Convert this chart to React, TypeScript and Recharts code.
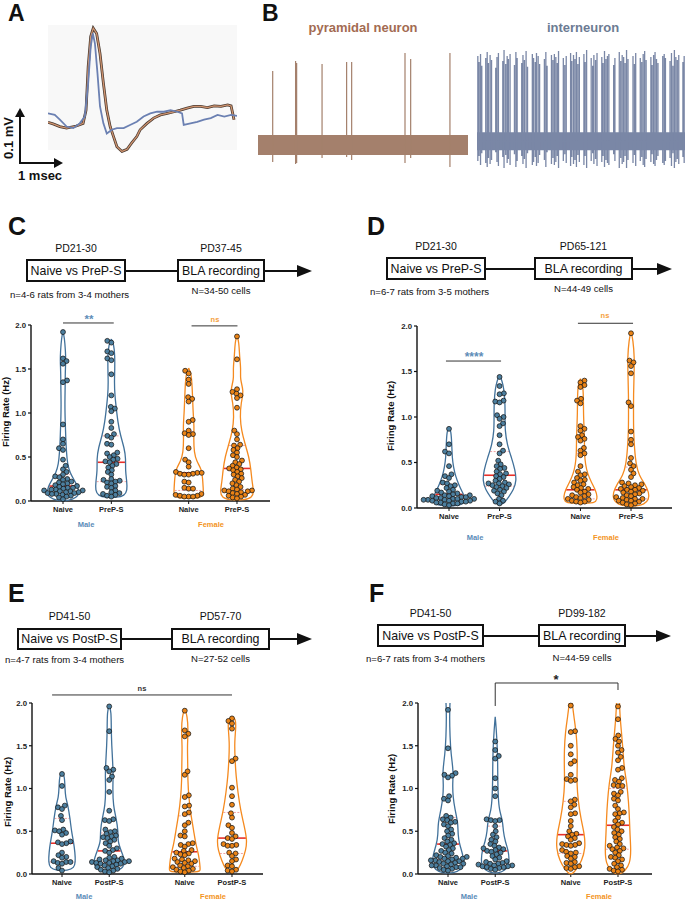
import React from 'react';
import { ScatterChart, Scatter, XAxis, YAxis, ReferenceLine, LineChart, Line, ReferenceArea } from 'recharts';

const FONT = '"Liberation Sans", Arial, Helvetica, sans-serif';
const BLUE_LINE = '#41719a';
const BLUE_DOT = '#4c7f9f';
const ORANGE_LINE = '#f58a1f';
const ORANGE_DOT = '#ea8316';
const MALE_TXT = '#5a8cb8';
const FEMALE_TXT = '#f39423';
const MEDIAN = '#e8302a';
const QUART = '#f2a0a0';

// ---------- Panel A: averaged spike waveforms (time ms, voltage µV) ----------
const brownT = [0, 0.12, 0.28, 0.44, 0.67, 0.83, 0.9, 0.95, 1.01, 1.07, 1.15, 1.23, 1.31, 1.39, 1.47, 1.55, 1.63, 1.75, 1.87, 1.98, 2.1, 2.18, 2.34, 2.5, 2.66, 2.82, 2.98, 3.13, 3.29, 3.45, 3.61, 3.77, 3.93, 4.09, 4.25, 4.33, 4.4];
const brownV = [8, 5, 0, -3, 1, 6, 31, 113, 170, 186, 176, 138, 82, 31, 0, -19, -38, -47, -43, -31, -19, -6, 6, 16, 22, 25, 28, 31, 35, 38, 38, 36, 39, 38, 41, 39, 13];
const blueT = [0, 0.16, 0.28, 0.44, 0.6, 0.75, 0.87, 0.95, 1.01, 1.06, 1.11, 1.17, 1.23, 1.31, 1.39, 1.51, 1.63, 1.79, 1.94, 2.1, 2.26, 2.42, 2.58, 2.74, 2.9, 3.06, 3.17, 3.21, 3.37, 3.53, 3.69, 3.85, 4.01, 4.17, 4.33, 4.47];
const blueV = [25, 22, 13, 0, -3, 6, 19, 82, 151, 176, 157, 101, 38, 6, -13, -6, -3, -3, 3, 9, 19, 25, 28, 28, 31, 28, 25, 3, 6, 9, 13, 16, 22, 19, 22, 20];

// ---------- Panel B: spike trains ----------
const pyrSpikeTimes = [7.0, 17.9, 18.4, 30.5, 42.2, 44.6, 70.0, 72.7, 91.4];
const pyrSpikeTops = [74, 84, 82, 81, 83, 83, 92, 86, 92];
const pyrSpikeBottoms = [-17, -19, -18, -13, -12, -15, -18, -13, -22];
const pyrBand = [-10, 10];
const intSpikeTimes = [
  0.4, 1.0, 1.7, 2.3, 4.2, 4.9, 5.5, 6.3, 7.0, 9.0, 9.6, 10.3, 12.4, 13.0, 13.8, 14.5, 15.1, 15.9, 18.0, 18.7,
  19.3, 21.5, 22.1, 22.8, 23.6, 24.3, 26.6, 27.2, 28.0, 28.6, 29.4, 30.1, 32.4, 33.1, 33.7, 35.8, 36.5, 37.2, 37.9, 38.6,
  39.2, 41.5, 42.2, 42.9, 45.0, 45.6, 46.4, 47.1, 47.8, 48.5, 49.2, 51.4, 52.0, 52.7, 54.9, 55.6, 56.2, 57.0, 57.7, 60.0,
  60.6, 61.3, 62.0, 62.7, 63.4, 65.7, 66.3, 68.4, 69.1, 69.8, 70.5, 71.2, 71.9, 72.6, 75.0, 75.7, 76.3, 78.5, 79.2, 79.9,
  80.6, 81.3, 83.6, 84.2, 84.9, 85.6, 86.3, 87.0, 89.3, 90.0, 90.6, 92.8, 93.5, 94.2, 94.9, 95.6, 96.3, 97.0, 99.0, 99.6,
];
const intSpikeTops = [
  86, 80, 88, 76, 84, 90, 79, 87, 82, 74, 85, 89, 81, 92, 78, 86, 83, 88, 77, 90,
  84, 79, 87, 82, 91, 75, 88, 84, 80, 89, 86, 78, 83, 90, 76, 87, 82, 88, 85, 79,
  91, 84, 77, 86, 89, 81, 87, 83, 90, 78, 85, 88, 80, 92, 84, 76, 87, 82, 89, 85,
  79, 91, 83, 86, 88, 77, 84, 90, 81, 87, 85, 79, 92, 83, 86, 78, 89, 84, 80, 88,
  91, 82, 85, 77, 87, 90, 83, 79, 86, 88, 84, 81, 89, 76, 92, 85, 82, 87, 80, 86,
];
const intSpikeBottoms = [
  -20, -15, -24, -12, -22, -26, -17, -23, -19, -11, -21, -25, -16, -27, -14, -22, -18, -24, -13, -26,
  -20, -15, -23, -18, -27, -12, -24, -21, -16, -25, -22, -14, -19, -26, -11, -23, -17, -24, -21, -15,
  -27, -20, -13, -22, -25, -16, -23, -19, -26, -14, -21, -24, -15, -27, -20, -12, -23, -18, -25, -21,
  -15, -26, -19, -22, -24, -13, -20, -27, -17, -23, -21, -15, -27, -19, -22, -14, -25, -20, -16, -24,
  -26, -18, -21, -13, -23, -25, -19, -15, -22, -24, -20, -17, -25, -12, -27, -21, -18, -23, -16, -22,
];
const intBand = [-9, 9];

// ---------- Violin panels ----------
const groupPos = [1, 2, 3.6, 4.6];
const yTicks = [0, 0.5, 1, 1.5, 2];
const labelsPre = ['Naive', 'PreP-S', 'Naive', 'PreP-S'];
const labelsPost = ['Naive', 'PostP-S', 'Naive', 'PostP-S'];

// Panel C
const cMaleNaive = [1.92, 1.62, 1.59, 1.56, 1.37, 1.35, 0.87, 0.7, 0.65, 0.6, 0.58, 0.47, 0.4, 0.36, 0.33, 0.3, 0.28, 0.27, 0.25, 0.24, 0.22, 0.21, 0.2, 0.19, 0.18, 0.17, 0.16, 0.15, 0.15, 0.14, 0.13, 0.13, 0.12, 0.12, 0.11, 0.11, 0.1, 0.1, 0.09, 0.09, 0.08, 0.08, 0.07, 0.06, 0.05, 0.04, 0.02];
const cMalePreP = [1.82, 1.8, 1.7, 1.68, 1.62, 1.6, 1.44, 1.2, 1.07, 1.05, 1.02, 0.9, 0.83, 0.76, 0.74, 0.72, 0.65, 0.64, 0.55, 0.54, 0.52, 0.5, 0.48, 0.47, 0.45, 0.44, 0.42, 0.4, 0.38, 0.35, 0.33, 0.3, 0.25, 0.24, 0.23, 0.22, 0.21, 0.2, 0.17, 0.16, 0.15, 0.12, 0.1, 0.09, 0.08, 0.07, 0.06, 0.05];
const cFemaleNaive = [1.48, 1.45, 1.38, 1.33, 1.18, 1.16, 1.13, 0.92, 0.9, 0.8, 0.77, 0.76, 0.75, 0.6, 0.47, 0.44, 0.39, 0.33, 0.32, 0.32, 0.31, 0.31, 0.3, 0.3, 0.22, 0.21, 0.15, 0.14, 0.14, 0.08, 0.07, 0.06, 0.06, 0.05, 0.05, 0.05];
const cFemalePreP = [1.87, 1.61, 1.27, 1.24, 1.22, 1.2, 1.17, 1.06, 0.8, 0.76, 0.7, 0.64, 0.63, 0.6, 0.58, 0.55, 0.52, 0.5, 0.46, 0.44, 0.42, 0.4, 0.38, 0.37, 0.36, 0.35, 0.33, 0.31, 0.3, 0.28, 0.26, 0.24, 0.22, 0.2, 0.18, 0.16, 0.14, 0.13, 0.12, 0.12, 0.11, 0.11, 0.1, 0.09, 0.08, 0.07, 0.06, 0.05, 0.04, 0.03];
const cMaleNaiveViolin = [[1.93, 0], [1.85, 1.5], [1.7, 2.5], [1.6, 2.8], [1.45, 2.2], [1.3, 2.2], [1.1, 1.8], [0.9, 2.2], [0.7, 2.8], [0.55, 3.5], [0.42, 4.5], [0.32, 7], [0.24, 11], [0.16, 15], [0.09, 16], [0.04, 14], [0.0, 5]];
const cMalePrePViolin = [[1.84, 0], [1.78, 2.5], [1.65, 3.5], [1.5, 3.5], [1.35, 3], [1.2, 3.5], [1.05, 5], [0.9, 6.5], [0.75, 9], [0.6, 13], [0.48, 14.5], [0.35, 14], [0.22, 15.5], [0.12, 16], [0.06, 13], [0.04, 6]];
const cFemaleNaiveViolin = [[1.51, 0], [1.45, 2.5], [1.3, 3.5], [1.15, 4], [1.0, 4.5], [0.85, 5.5], [0.7, 5], [0.55, 5.5], [0.45, 8], [0.36, 13], [0.25, 14], [0.15, 14.5], [0.07, 15], [0.04, 12], [0.03, 6]];
const cFemalePrePViolin = [[1.89, 0], [1.8, 2], [1.65, 2.5], [1.5, 4], [1.38, 3], [1.25, 7], [1.12, 4], [0.95, 3], [0.8, 4.5], [0.65, 8], [0.5, 12], [0.35, 14], [0.22, 15], [0.1, 17], [0.04, 15], [0.01, 8]];
const cMedians = [0.17, 0.44, 0.32, 0.37];
const cQ1 = [0.1, 0.22, 0.12, 0.13];
const cQ3 = [0.3, 0.74, 0.79, 0.63];

// Panel D
const dMaleNaive = [0.87, 0.7, 0.62, 0.6, 0.46, 0.37, 0.35, 0.33, 0.28, 0.27, 0.25, 0.24, 0.22, 0.2, 0.19, 0.18, 0.17, 0.16, 0.15, 0.14, 0.14, 0.13, 0.13, 0.12, 0.12, 0.11, 0.11, 0.1, 0.1, 0.1, 0.09, 0.09, 0.09, 0.08, 0.08, 0.08, 0.07, 0.07, 0.06, 0.06, 0.05, 0.05, 0.04, 0.03];
const dMalePreP = [1.44, 1.34, 1.26, 1.25, 1.18, 1.17, 1.16, 1.02, 1.0, 0.98, 0.93, 0.9, 0.8, 0.7, 0.63, 0.6, 0.52, 0.48, 0.46, 0.44, 0.43, 0.4, 0.38, 0.37, 0.35, 0.34, 0.32, 0.3, 0.28, 0.27, 0.27, 0.26, 0.25, 0.24, 0.23, 0.22, 0.2, 0.19, 0.18, 0.16, 0.14, 0.1, 0.08, 0.07, 0.05];
const dFemaleNaive = [1.4, 1.38, 1.35, 1.33, 1.2, 1.18, 1.15, 0.9, 0.87, 0.85, 0.8, 0.78, 0.76, 0.74, 0.66, 0.63, 0.6, 0.58, 0.46, 0.4, 0.37, 0.36, 0.33, 0.31, 0.3, 0.28, 0.26, 0.25, 0.23, 0.22, 0.21, 0.2, 0.18, 0.17, 0.15, 0.14, 0.13, 0.12, 0.11, 0.1, 0.09, 0.08, 0.07, 0.07, 0.06];
const dFemalePreP = [1.92, 1.62, 1.6, 1.56, 1.48, 1.16, 1.12, 0.84, 0.75, 0.7, 0.55, 0.49, 0.46, 0.42, 0.38, 0.34, 0.28, 0.27, 0.26, 0.25, 0.24, 0.23, 0.22, 0.21, 0.2, 0.2, 0.19, 0.18, 0.17, 0.16, 0.15, 0.14, 0.13, 0.12, 0.11, 0.1, 0.1, 0.09, 0.08, 0.08, 0.07, 0.06, 0.05, 0.04, 0.03];
const dMaleNaiveViolin = [[0.89, 0], [0.85, 2], [0.7, 2.8], [0.55, 3.2], [0.45, 4.5], [0.35, 6.5], [0.25, 10], [0.18, 13], [0.1, 17], [0.05, 15], [0.02, 7]];
const dMalePrePViolin = [[1.46, 0], [1.4, 2.5], [1.3, 4.5], [1.15, 5.5], [1.0, 5.5], [0.85, 5.5], [0.7, 7.5], [0.55, 12], [0.42, 15.5], [0.3, 17], [0.2, 14], [0.12, 9], [0.06, 5], [0.04, 2]];
const dFemaleNaiveViolin = [[1.42, 0], [1.35, 2.5], [1.2, 3], [1.05, 3], [0.9, 3.5], [0.75, 4], [0.6, 4], [0.48, 5], [0.38, 7], [0.28, 11], [0.2, 15], [0.12, 17], [0.07, 16], [0.05, 10]];
const dFemalePrePViolin = [[1.94, 0], [1.85, 2], [1.65, 3.5], [1.45, 3], [1.25, 2.5], [1.05, 2.5], [0.85, 2.5], [0.65, 3.5], [0.48, 5], [0.36, 8], [0.26, 14], [0.17, 18], [0.09, 18], [0.04, 13], [0.02, 6]];
const dMedians = [0.15, 0.36, 0.2, 0.2];
const dQ1 = [0.09, 0.24, 0.1, 0.1];
const dQ3 = [0.26, 0.62, 0.6, 0.45];

// Panel E
const eMaleNaive = [1.17, 1.03, 0.8, 0.78, 0.76, 0.68, 0.63, 0.52, 0.51, 0.5, 0.48, 0.46, 0.38, 0.37, 0.36, 0.35, 0.25, 0.22, 0.2, 0.19, 0.15, 0.14, 0.14, 0.13, 0.12, 0.07, 0.04];
const eMalePostP = [1.96, 1.67, 1.24, 1.22, 1.2, 1.14, 1.1, 0.96, 0.74, 0.64, 0.63, 0.62, 0.52, 0.5, 0.49, 0.47, 0.45, 0.44, 0.43, 0.42, 0.4, 0.38, 0.36, 0.33, 0.3, 0.28, 0.27, 0.25, 0.2, 0.19, 0.18, 0.17, 0.16, 0.16, 0.15, 0.15, 0.14, 0.14, 0.13, 0.13, 0.12, 0.12, 0.11, 0.1, 0.09, 0.08, 0.07, 0.06, 0.05, 0.04, 0.03, 0.02];
const eFemaleNaive = [1.91, 1.68, 1.64, 1.61, 1.2, 1.16, 0.92, 0.9, 0.8, 0.79, 0.72, 0.7, 0.6, 0.57, 0.5, 0.45, 0.44, 0.36, 0.35, 0.34, 0.32, 0.28, 0.27, 0.25, 0.24, 0.23, 0.22, 0.18, 0.17, 0.16, 0.15, 0.14, 0.13, 0.12, 0.1, 0.09, 0.08, 0.07, 0.06, 0.05, 0.04, 0.03, 0.02];
const eFemalePostP = [1.82, 1.79, 1.76, 1.7, 1.35, 1.32, 1.01, 0.91, 0.81, 0.71, 0.66, 0.57, 0.54, 0.48, 0.44, 0.42, 0.41, 0.35, 0.34, 0.33, 0.33, 0.25, 0.24, 0.21, 0.17, 0.15, 0.1, 0.09, 0.05, 0.04, 0.03];
const eMaleNaiveViolin = [[1.19, 0], [1.15, 2.5], [1.0, 3], [0.9, 3.5], [0.8, 6], [0.65, 8], [0.5, 9.5], [0.38, 11.5], [0.25, 13], [0.14, 13.5], [0.07, 12], [0.04, 6]];
const eMalePostPViolin = [[1.98, 0], [1.9, 2], [1.7, 2], [1.5, 2.5], [1.3, 3.5], [1.15, 4], [1.0, 3.5], [0.8, 4], [0.65, 7], [0.5, 9], [0.38, 8.5], [0.27, 12], [0.15, 16], [0.07, 14], [0.03, 7]];
const eFemaleNaiveViolin = [[1.93, 0], [1.85, 2.5], [1.68, 3.5], [1.5, 2.5], [1.3, 3], [1.1, 3], [0.9, 4], [0.7, 6], [0.5, 9], [0.35, 11], [0.22, 14], [0.12, 15], [0.05, 15.5], [0.02, 15]];
const eFemalePostPViolin = [[1.84, 0], [1.82, 3.5], [1.72, 4], [1.55, 2.5], [1.35, 3], [1.15, 4], [0.95, 6], [0.75, 8.5], [0.55, 12.5], [0.4, 15], [0.28, 14], [0.15, 10], [0.07, 7], [0.03, 4]];
const eMedians = [0.36, 0.27, 0.26, 0.42];
const eQ1 = [0.14, 0.13, 0.09, 0.24];
const eQ3 = [0.65, 0.48, 0.68, 0.72];

// Panel F
const fMaleNaive = [1.92, 1.47, 1.18, 1.16, 1.15, 1.13, 0.91, 0.88, 0.86, 0.68, 0.66, 0.64, 0.63, 0.61, 0.6, 0.58, 0.56, 0.52, 0.5, 0.47, 0.45, 0.42, 0.4, 0.38, 0.36, 0.35, 0.34, 0.32, 0.3, 0.28, 0.27, 0.25, 0.24, 0.22, 0.21, 0.2, 0.2, 0.19, 0.18, 0.18, 0.17, 0.16, 0.16, 0.15, 0.15, 0.14, 0.13, 0.12, 0.12, 0.11, 0.1, 0.1, 0.09, 0.08, 0.08, 0.07, 0.06, 0.05, 0.04];
const fMalePostP = [1.55, 1.45, 1.38, 1.35, 1.12, 1.0, 0.91, 0.64, 0.63, 0.63, 0.62, 0.56, 0.5, 0.46, 0.43, 0.4, 0.38, 0.35, 0.33, 0.31, 0.3, 0.29, 0.28, 0.27, 0.26, 0.25, 0.23, 0.21, 0.19, 0.17, 0.15, 0.14, 0.13, 0.12, 0.12, 0.11, 0.1, 0.1, 0.09, 0.09, 0.08, 0.08, 0.07, 0.06, 0.05];
const fFemaleNaive = [1.97, 1.67, 1.66, 1.5, 1.4, 1.32, 1.29, 1.16, 1.11, 1.1, 1.09, 0.87, 0.85, 0.81, 0.78, 0.71, 0.7, 0.62, 0.56, 0.5, 0.47, 0.46, 0.44, 0.42, 0.4, 0.36, 0.35, 0.34, 0.34, 0.33, 0.28, 0.26, 0.25, 0.24, 0.21, 0.2, 0.18, 0.14, 0.13, 0.12, 0.09, 0.08, 0.07, 0.06];
const fFemalePostP = [1.96, 1.81, 1.62, 1.58, 1.55, 1.5, 1.45, 1.42, 1.37, 1.33, 1.24, 1.22, 1.12, 1.1, 1.08, 1.04, 1.03, 1.03, 0.96, 0.94, 0.92, 0.88, 0.86, 0.8, 0.76, 0.72, 0.71, 0.7, 0.66, 0.62, 0.6, 0.58, 0.55, 0.52, 0.5, 0.48, 0.46, 0.43, 0.41, 0.38, 0.35, 0.33, 0.31, 0.3, 0.29, 0.27, 0.25, 0.22, 0.2, 0.19, 0.17, 0.15, 0.12, 0.1, 0.08, 0.06, 0.05, 0.04, 0.03];
const fMaleNaiveViolin = [[2.0, 2], [1.85, 1.5], [1.6, 2], [1.4, 3], [1.2, 5.5], [1.05, 4.5], [0.9, 5], [0.75, 7], [0.6, 10], [0.45, 10], [0.35, 11.5], [0.22, 15], [0.12, 16], [0.05, 13], [0.01, 6]];
const fMalePostPViolin = [[1.84, 0], [1.7, 1], [1.5, 2], [1.3, 2.5], [1.1, 2.5], [0.9, 3], [0.75, 4], [0.62, 7.5], [0.5, 8], [0.38, 10], [0.28, 13], [0.17, 14], [0.09, 13.5], [0.04, 9], [0.01, 4]];
const fFemaleNaiveViolin = [[2.0, 1.5], [1.85, 3], [1.65, 5.5], [1.45, 6.5], [1.25, 6.5], [1.05, 6], [0.85, 7.5], [0.65, 10], [0.45, 14], [0.3, 14.5], [0.15, 11], [0.06, 6], [0.0, 2]];
const fFemalePostPViolin = [[2.0, 1.5], [1.85, 2], [1.65, 3.5], [1.45, 5], [1.25, 6], [1.05, 9], [0.85, 10.5], [0.65, 11.5], [0.45, 12], [0.28, 13], [0.12, 12], [0.04, 7], [0.0, 3]];
const fMedians = [0.35, 0.27, 0.46, 0.57];
const fQ1 = [0.17, 0.11, 0.24, 0.29];
const fQ3 = [0.66, 0.56, 0.85, 1.0];

// ---------- helpers ----------
type Pt = { x: number; y: number };

function widthAt(violin: number[][], y: number): number {
  if (y >= violin[0][0]) return violin[0][1];
  for (let i = 0; i < violin.length - 1; i++) {
    const [ya, wa] = violin[i];
    const [yb, wb] = violin[i + 1];
    if (y <= ya && y >= yb) {
      const f = ya === yb ? 0 : (ya - y) / (ya - yb);
      return wa + (wb - wa) * f;
    }
  }
  return violin[violin.length - 1][1];
}

function swarmOffsets(values: number[], xppu: number, yppu: number, d: number): number[] {
  const order = values.map((_, i) => i).sort((a, b) => values[a] - values[b]);
  const placed: { x: number; y: number }[] = [];
  const off: number[] = new Array(values.length).fill(0);
  let flip = 1;
  for (const i of order) {
    const y = values[i] * yppu;
    const cands: number[] = [0];
    for (const p of placed) {
      const dy = Math.abs(p.y - y);
      if (dy < d) {
        const dx = Math.sqrt(d * d - dy * dy);
        cands.push(p.x + dx, p.x - dx);
      }
    }
    flip = -flip;
    cands.sort((a, b) => Math.abs(a) - Math.abs(b) || (a - b) * flip);
    let chosen = 0;
    for (const c of cands) {
      if (placed.every((p) => (p.x - c) ** 2 + (p.y - y) ** 2 >= d * d - 1e-6)) {
        chosen = c;
        break;
      }
    }
    placed.push({ x: chosen, y });
    off[i] = chosen / xppu;
  }
  return off;
}

function outline(violin: number[][], pos: number, xppu: number): Pt[] {
  const left = violin.map(([y, w]) => ({ x: pos - w / xppu, y }));
  const right = [...violin].reverse().map(([y, w]) => ({ x: pos + w / xppu, y }));
  return [...left, ...right];
}

function T(props: { x: number; base: number; size: number; children: React.ReactNode; anchor?: 'start' | 'middle'; bold?: boolean; color?: string }) {
  const { x, base, size, children, anchor = 'start', bold = false, color = '#111' } = props;
  return (
    <div
      style={{
        position: 'absolute',
        left: x,
        top: base - 0.8465 * size,
        fontSize: size,
        lineHeight: `${size}px`,
        fontWeight: bold ? 700 : 400,
        color,
        whiteSpace: 'nowrap',
        transform: anchor === 'middle' ? 'translateX(-50%)' : undefined,
        fontFamily: FONT,
      }}
    >
      {children}
    </div>
  );
}

function VText(props: { cx: number; cy: number; size: number; children: React.ReactNode }) {
  return (
    <div
      style={{
        position: 'absolute',
        left: props.cx,
        top: props.cy,
        fontSize: props.size,
        lineHeight: `${props.size}px`,
        fontWeight: 700,
        color: '#111',
        whiteSpace: 'nowrap',
        transform: 'translate(-50%, -50%) rotate(-90deg)',
        fontFamily: FONT,
      }}
    >
      {props.children}
    </div>
  );
}

type ProtoCfg = {
  letter: string; letterX: number; letterBase: number;
  b1: number[]; b2: number[]; boxTop: number; boxH: number; arrowEnd: number;
  pd1: string; pd2: string; pdBase: number; b1Text: string; b2Text: string; textBase: number;
  nText: string; nX: number; nBase: number; NText: string; NBase: number;
};

function Protocol({ c }: { c: ProtoCfg }) {
  const mid = c.boxTop + c.boxH / 2;
  const box = (x0: number, x1: number) => (
    <div style={{ position: 'absolute', left: x0, top: c.boxTop, width: x1 - x0, height: c.boxH, border: '2px solid #111', boxSizing: 'border-box' }} />
  );
  const c1 = (c.b1[0] + c.b1[1]) / 2;
  const c2 = (c.b2[0] + c.b2[1]) / 2;
  return (
    <>
      <T x={c.letterX} base={c.letterBase} size={25} bold>{c.letter}</T>
      <T x={c1} base={c.pdBase} size={10.5} anchor="middle">{c.pd1}</T>
      <T x={c2} base={c.pdBase} size={10.5} anchor="middle">{c.pd2}</T>
      {box(c.b1[0], c.b1[1])}
      {box(c.b2[0], c.b2[1])}
      <div style={{ position: 'absolute', left: c.b1[1], top: mid - 1, width: c.b2[0] - c.b1[1], height: 2, background: '#111' }} />
      <div style={{ position: 'absolute', left: c.b2[1], top: mid - 1, width: c.arrowEnd - 14 - c.b2[1], height: 2, background: '#111' }} />
      <div style={{ position: 'absolute', left: c.arrowEnd - 15, top: mid - 6, width: 0, height: 0, borderLeft: '15px solid #111', borderTop: '6px solid transparent', borderBottom: '6px solid transparent' }} />
      <T x={c1} base={c.textBase} size={12.4} anchor="middle">{c.b1Text}</T>
      <T x={c2} base={c.textBase} size={12.4} anchor="middle">{c.b2Text}</T>
      <T x={c.nX} base={c.nBase} size={9.6}>{c.nText}</T>
      <T x={c2} base={c.NBase} size={9.6} anchor="middle">{c.NText}</T>
    </>
  );
}

type GroupCfg = { values: number[]; violin: number[][] };
type SigText = { text: string; x: number; base: number; color: string; size: number };
type PanelCfg = {
  axisLeft: number; plotTop: number; plotBottom: number; plotRight: number; c1: number; xppu: number;
  groups: GroupCfg[]; medians: number[]; q1: number[]; q3: number[]; labels: string[];
  sigLines: Pt[][]; sigTexts: SigText[];
  yLabel: { cx: number; cy: number }; sex: { male: number; female: number; base: number };
};

const noShape = () => <g />;

function ViolinPanel({ p }: { p: PanelCfg }) {
  const YAW = 28, MT = 45, MR = 6, XH = 18;
  const left = p.axisLeft - YAW;
  const top = p.plotTop - MT;
  const width = p.plotRight + MR - left;
  const height = p.plotBottom + XH - top;
  const yppu = (p.plotBottom - p.plotTop) / 2;
  const xDomain = [1 - (p.c1 - p.axisLeft) / p.xppu, 1 + (p.plotRight - p.c1) / p.xppu];
  const colorLine = (i: number) => (i < 2 ? BLUE_LINE : ORANGE_LINE);
  const colorDot = (i: number) => (i < 2 ? BLUE_DOT : ORANGE_DOT);

  return (
    <>
      <div style={{ position: 'absolute', left, top }}>
        <ScatterChart width={width} height={height} margin={{ top: MT, right: MR, bottom: 0, left: 0 }}>
          <XAxis
            type="number"
            dataKey="x"
            domain={xDomain}
            ticks={groupPos}
            interval={0}
            tickFormatter={(v: number) => p.labels[groupPos.indexOf(v)] ?? ''}
            height={XH}
            tickSize={3}
            tickMargin={3}
            axisLine={{ stroke: '#111', strokeWidth: 1.4 }}
            tickLine={{ stroke: '#111', strokeWidth: 1 }}
            tick={{ fontSize: 7.5, fontWeight: 700, fill: '#222', fontFamily: FONT }}
          />
          <YAxis
            type="number"
            dataKey="y"
            domain={[0, 2]}
            ticks={yTicks}
            interval={0}
            tickFormatter={(v: number) => v.toFixed(1)}
            width={YAW}
            tickSize={3}
            tickMargin={2}
            axisLine={{ stroke: '#111', strokeWidth: 1.4 }}
            tickLine={{ stroke: '#111', strokeWidth: 1.2 }}
            tick={{ fontSize: 7.8, fontWeight: 700, fill: '#222', fontFamily: FONT }}
          />
          {p.groups.map((g, i) => (
            <Scatter
              key={'v' + i}
              data={outline(g.violin, groupPos[i], p.xppu)}
              shape={noShape}
              line={{ stroke: colorLine(i), strokeWidth: 1.3, fill: 'none' }}
              lineType="joint"
              lineJointType="basis"
              isAnimationActive={false}
            />
          ))}
          {p.groups.map((g, i) => {
            const out: React.ReactNode[] = [];
            [p.q1[i], p.q3[i]].forEach((q, k) => {
              const w = (widthAt(g.violin, q) * 0.95) / p.xppu;
              out.push(
                <ReferenceLine
                  key={`q${i}-${k}`}
                  segment={[{ x: groupPos[i] - w, y: q }, { x: groupPos[i] + w, y: q }]}
                  stroke={QUART}
                  strokeWidth={1}
                  strokeDasharray="2 1.5"
                  ifOverflow="visible"
                />
              );
            });
            const wm = (widthAt(g.violin, p.medians[i]) * 0.95) / p.xppu;
            out.push(
              <ReferenceLine
                key={`m${i}`}
                segment={[{ x: groupPos[i] - wm, y: p.medians[i] }, { x: groupPos[i] + wm, y: p.medians[i] }]}
                stroke={MEDIAN}
                strokeWidth={1.6}
                ifOverflow="visible"
              />
            );
            return out;
          })}
          {p.groups.map((g, i) => {
            const off = swarmOffsets(g.values, p.xppu, yppu, 4.4);
            const data = g.values.map((v, k) => ({ x: groupPos[i] + off[k], y: v }));
            const fill = colorDot(i);
            return (
              <Scatter
                key={'d' + i}
                data={data}
                isAnimationActive={false}
                shape={(s: any) => <circle cx={s.cx} cy={s.cy} r={2.45} fill={fill} stroke="#161616" strokeWidth={0.75} />}
              />
            );
          })}
          {p.sigLines.map((seg, i) => (
            <ReferenceLine key={'s' + i} segment={seg as any} stroke="#333" strokeWidth={1} ifOverflow="visible" />
          ))}
        </ScatterChart>
      </div>
      <VText cx={p.yLabel.cx} cy={p.yLabel.cy} size={9.5}>Firing Rate (Hz)</VText>
      <T x={p.sex.male} base={p.sex.base} size={7.5} bold anchor="middle" color={MALE_TXT}>Male</T>
      <T x={p.sex.female} base={p.sex.base} size={7.5} bold anchor="middle" color={FEMALE_TXT}>Female</T>
      {p.sigTexts.map((s, i) => (
        <T key={'t' + i} x={s.x} base={s.base} size={s.size} bold anchor="middle" color={s.color}>{s.text}</T>
      ))}
    </>
  );
}

const SIG_BLUE = '#5e8db8';
const SIG_ORANGE = '#f5a03c';

const protoC: ProtoCfg = { letter: 'C', letterX: 8, letterBase: 235, b1: [26, 126], b2: [177, 265], boxTop: 259, boxH: 23, arrowEnd: 312, pd1: 'PD21-30', pd2: 'PD37-45', pdBase: 252, b1Text: 'Naive vs PreP-S', b2Text: 'BLA recording', textBase: 275, nText: 'n=4-6 rats from 3-4 mothers', nX: 10, nBase: 298, NText: 'N=34-50 cells', NBase: 294 };
const protoD: ProtoCfg = { letter: 'D', letterX: 367, letterBase: 235, b1: [386, 486], b2: [534, 633], boxTop: 257, boxH: 23, arrowEnd: 672, pd1: 'PD21-30', pd2: 'PD65-121', pdBase: 249.5, b1Text: 'Naive vs PreP-S', b2Text: 'BLA recording', textBase: 273, nText: 'n=6-7 rats from 3-5 mothers', nX: 370, nBase: 295, NText: 'N=44-49 cells', NBase: 292 };
const protoE: ProtoCfg = { letter: 'E', letterX: 8, letterBase: 602, b1: [17, 122], b2: [171, 270], boxTop: 628, boxH: 22, arrowEnd: 312, pd1: 'PD41-50', pd2: 'PD57-70', pdBase: 620, b1Text: 'Naive vs PostP-S', b2Text: 'BLA recording', textBase: 643.5, nText: 'n=4-7 rats from 3-4 mothers', nX: 5, nBase: 663.5, NText: 'N=27-52 cells', NBase: 662.5 };
const protoF: ProtoCfg = { letter: 'F', letterX: 369, letterBase: 602, b1: [377, 484], b2: [538, 626], boxTop: 624, boxH: 23, arrowEnd: 671, pd1: 'PD41-50', pd2: 'PD99-182', pdBase: 617, b1Text: 'Naive vs PostP-S', b2Text: 'BLA recording', textBase: 640, nText: 'n=6-7 rats from 3-4 mothers', nX: 366, nBase: 662, NText: 'N=44-59 cells', NBase: 661 };

const panelC: PanelCfg = {
  axisLeft: 31, plotTop: 325, plotBottom: 501, plotRight: 270, c1: 63, xppu: 48.33,
  groups: [
    { values: cMaleNaive, violin: cMaleNaiveViolin },
    { values: cMalePreP, violin: cMalePrePViolin },
    { values: cFemaleNaive, violin: cFemaleNaiveViolin },
    { values: cFemalePreP, violin: cFemalePrePViolin },
  ],
  medians: cMedians, q1: cQ1, q3: cQ3, labels: labelsPre,
  sigLines: [[{ x: 1, y: 2.023 }, { x: 2.05, y: 2.023 }], [{ x: 3.66, y: 1.99 }, { x: 4.61, y: 1.99 }]],
  sigTexts: [{ text: '**', x: 89, base: 324, color: SIG_BLUE, size: 11.5 }, { text: 'ns', x: 215, base: 322, color: SIG_ORANGE, size: 7.5 }],
  yLabel: { cx: 6, cy: 412 }, sex: { male: 86, female: 211, base: 527 },
};
const panelD: PanelCfg = {
  axisLeft: 417, plotTop: 326, plotBottom: 508, plotRight: 672, c1: 449, xppu: 50.56,
  groups: [
    { values: dMaleNaive, violin: dMaleNaiveViolin },
    { values: dMalePreP, violin: dMalePrePViolin },
    { values: dFemaleNaive, violin: dFemaleNaiveViolin },
    { values: dFemalePreP, violin: dFemalePrePViolin },
  ],
  medians: dMedians, q1: dQ1, q3: dQ3, labels: labelsPre,
  sigLines: [[{ x: 0.94, y: 1.615 }, { x: 2.03, y: 1.615 }], [{ x: 3.55, y: 2.03 }, { x: 4.64, y: 2.03 }]],
  sigTexts: [{ text: '****', x: 474, base: 361, color: SIG_BLUE, size: 12 }, { text: 'ns', x: 605, base: 318, color: SIG_ORANGE, size: 7.5 }],
  yLabel: { cx: 390.5, cy: 416 }, sex: { male: 475, female: 606, base: 540 },
};
const panelE: PanelCfg = {
  axisLeft: 32, plotTop: 703, plotBottom: 874, plotRight: 263, c1: 62, xppu: 47.22,
  groups: [
    { values: eMaleNaive, violin: eMaleNaiveViolin },
    { values: eMalePostP, violin: eMalePostPViolin },
    { values: eFemaleNaive, violin: eFemaleNaiveViolin },
    { values: eFemalePostP, violin: eFemalePostPViolin },
  ],
  medians: eMedians, q1: eQ1, q3: eQ3, labels: labelsPost,
  sigLines: [[{ x: 0.79, y: 2.094 }, { x: 4.6, y: 2.094 }]],
  sigTexts: [{ text: 'ns', x: 142, base: 691, color: '#333', size: 7.5 }],
  yLabel: { cx: 7.5, cy: 792 }, sex: { male: 84, female: 213, base: 899 },
};
const panelF: PanelCfg = {
  axisLeft: 418, plotTop: 703, plotBottom: 874, plotRight: 652, c1: 448, xppu: 47.22,
  groups: [
    { values: fMaleNaive, violin: fMaleNaiveViolin },
    { values: fMalePostP, violin: fMalePostPViolin },
    { values: fFemaleNaive, violin: fFemaleNaiveViolin },
    { values: fFemalePostP, violin: fFemalePostPViolin },
  ],
  medians: fMedians, q1: fQ1, q3: fQ3, labels: labelsPost,
  sigLines: [
    [{ x: 2, y: 1.965 }, { x: 2, y: 2.234 }],
    [{ x: 2, y: 2.234 }, { x: 4.6, y: 2.234 }],
    [{ x: 4.6, y: 2.234 }, { x: 4.6, y: 2.152 }],
  ],
  sigTexts: [{ text: '*', x: 556, base: 684.5, color: '#222', size: 13 }],
  yLabel: { cx: 391.5, cy: 789 }, sex: { male: 469, female: 599, base: 899 },
};

function spikeSeries(times: number[], tops: number[], bottoms: number[]) {
  const pts: { t: number; v: number }[] = [{ t: 0, v: 0 }];
  times.forEach((t, i) => {
    pts.push({ t, v: 0 }, { t, v: tops[i] }, { t, v: bottoms[i] }, { t, v: 0 });
  });
  pts.push({ t: 100, v: 0 });
  return pts;
}

function SpikeTrain(props: { left: number; width: number; times: number[]; tops: number[]; bottoms: number[]; band: number[]; domain: number[]; color: string; sw: number }) {
  const data = spikeSeries(props.times, props.tops, props.bottoms);
  return (
    <div style={{ position: 'absolute', left: props.left, top: 50 }}>
      <LineChart width={props.width} height={120} data={data} margin={{ top: 0, right: 0, bottom: 0, left: 0 }}>
        <XAxis type="number" dataKey="t" domain={[0, 100]} hide />
        <YAxis type="number" domain={props.domain} hide />
        <ReferenceArea x1={0} x2={100} y1={props.band[0]} y2={props.band[1]} fill={props.color} fillOpacity={1} stroke="none" />
        <Line type="linear" dataKey="v" stroke={props.color} strokeWidth={props.sw} dot={false} isAnimationActive={false} />
      </LineChart>
    </div>
  );
}

export default function App() {
  const brownData = brownT.map((t, i) => ({ t, v: brownV[i] }));
  const blueData = blueT.map((t, i) => ({ t, v: blueV[i] }));
  return (
    <div style={{ position: 'absolute', left: 0, top: 0, width: 685, height: 901, background: '#fff', overflow: 'hidden', fontFamily: FONT }}>
      {/* Panel A */}
      <T x={8} base={21.5} size={23} bold>A</T>
      <div style={{ position: 'absolute', left: 48, top: 25, width: 189, height: 125, background: '#f8f8f8' }} />
      <div style={{ position: 'absolute', left: 48, top: 25 }}>
        <LineChart width={189} height={128} margin={{ top: 0, right: 0, bottom: 0, left: 0 }}>
          <XAxis type="number" dataKey="t" domain={[0, 4.47]} hide />
          <YAxis type="number" domain={[-50, 192]} hide />
          <Line data={brownData} type="linear" dataKey="v" stroke="#4a3a30" strokeWidth={2.8} dot={false} isAnimationActive={false} />
          <Line data={brownData} type="linear" dataKey="v" stroke="#d09470" strokeWidth={1.3} dot={false} isAnimationActive={false} />
          <Line data={blueData} type="linear" dataKey="v" stroke="#6b80b2" strokeWidth={1.8} dot={false} isAnimationActive={false} />
        </LineChart>
      </div>
      {/* scale bar */}
      <div style={{ position: 'absolute', left: 19, top: 116, width: 2, height: 48, background: '#111' }} />
      <div style={{ position: 'absolute', left: 15, top: 108, width: 0, height: 0, borderBottom: '9px solid #111', borderLeft: '5px solid transparent', borderRight: '5px solid transparent' }} />
      <div style={{ position: 'absolute', left: 19, top: 162, width: 36, height: 2, background: '#111' }} />
      <div style={{ position: 'absolute', left: 54, top: 158, width: 0, height: 0, borderLeft: '9px solid #111', borderTop: '5px solid transparent', borderBottom: '5px solid transparent' }} />
      <VText cx={8} cy={138} size={13}>0.1 mV</VText>
      <T x={18} base={180} size={13} bold>1 msec</T>

      {/* Panel B */}
      <T x={262} base={21.5} size={23} bold>B</T>
      <T x={363} base={32.5} size={13} bold anchor="middle" color="#a36b52">pyramidal neuron</T>
      <T x={583} base={32.3} size={13} bold anchor="middle" color="#6c7b93">interneuron</T>
      <SpikeTrain left={258} width={210} times={pyrSpikeTimes} tops={pyrSpikeTops} bottoms={pyrSpikeBottoms} band={pyrBand} domain={[-25, 95]} color="#a4806c" sw={1.2} />
      <SpikeTrain left={477} width={208} times={intSpikeTimes} tops={intSpikeTops} bottoms={intSpikeBottoms} band={intBand} domain={[-29, 91]} color="#7a87a6" sw={1.3} />

      {/* Panels C-F */}
      <Protocol c={protoC} />
      <Protocol c={protoD} />
      <Protocol c={protoE} />
      <Protocol c={protoF} />
      <ViolinPanel p={panelC} />
      <ViolinPanel p={panelD} />
      <ViolinPanel p={panelE} />
      <ViolinPanel p={panelF} />
    </div>
  );
}
